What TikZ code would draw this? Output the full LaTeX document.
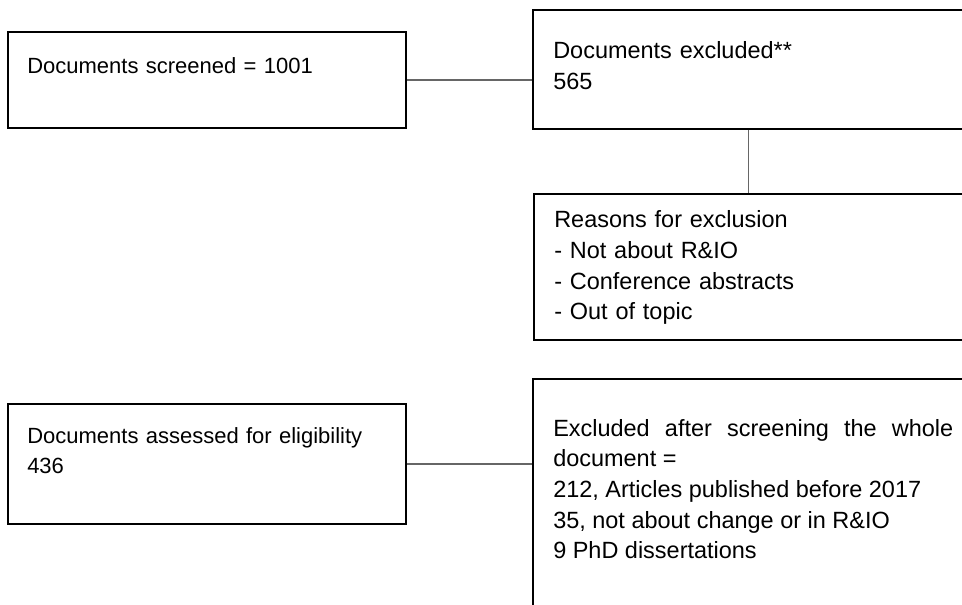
\documentclass[tikz,border=0pt]{standalone}
\usepackage{fontspec}
\setmainfont{Liberation Sans}
\usetikzlibrary{calc}
\hyphenpenalty=10000
\exhyphenpenalty=10000

\begin{document}
\begin{tikzpicture}[x=0.75pt, y=-0.75pt, font=\fontsize{16.5}{23}\selectfont,
    frame/.style={draw=black, line width=1.4pt, anchor=north west, inner sep=0pt},
    txt/.style={anchor=base west, inner sep=0pt, text width=300pt, align=left},
    wide/.style={font=\fontsize{17.6}{23}\selectfont},
    link/.style={draw=black!60, line width=1.4pt}]

  \useasboundingbox (0,0) rectangle (962,605);

  \node[frame, minimum width=298.5pt, minimum height=72pt]    (screened) at (7,31)    {};
  \node[frame, minimum width=323.25pt, minimum height=89.25pt] (excluded) at (532,9)   {};
  \node[frame, minimum width=322.5pt, minimum height=109.5pt]  (reasons)  at (533,193) {};
  \node[frame, minimum width=298.5pt, minimum height=90pt]     (assessed) at (7,403)   {};
  \node[frame, minimum width=323.25pt, minimum height=181.5pt] (fulltext) at (532,378) {};

  \node[txt] (screenedtxt) at ($(screened.north west)+(20,43)$) {Documents screened = 1001};
  \node[txt, wide] (excludedtxt) at ($(excluded.north west)+(21,50)$) {Documents excluded**\\565};
  \node[txt, wide] (reasonstxt)  at ($(reasons.north west)+(21,35)$)
        {Reasons for exclusion\\- Not about R\&IO\\- Conference abstracts\\- Out of topic};
  \node[txt] (assessedtxt) at ($(assessed.north west)+(20,40)$)
        {Documents assessed for eligibility\\436};
  \node[txt, wide, align=justify] (fulltexttxt) at ($(fulltext.north west)+(21,58)$)
        {Excluded after screening the whole document =\\212, Articles published before 2017\\35, not about change or in R\&IO\\9 PhD dissertations};

  \draw[link] (screened.east) -- (screened.east -| excluded.west);
  \draw[link] (excluded.south) -- (excluded.south |- reasons.north);
  \draw[link] (assessed.east) -- (assessed.east -| fulltext.west);

\end{tikzpicture}
\end{document}
